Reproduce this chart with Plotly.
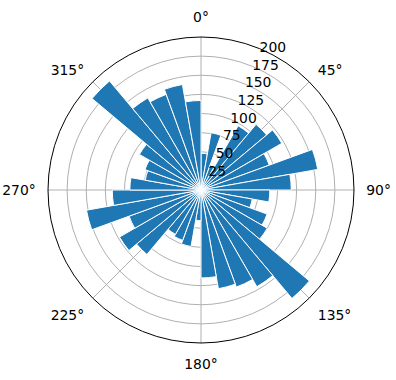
import plotly.graph_objects as go

# Bins: start angle (deg, clockwise from North), 10 deg wide
bin_starts = list(range(0, 360, 10))
counts = [48, 76, 35, 97, 112, 122, 95, 155, 118,
          90, 68, 92, 100, 185, 146, 135, 131, 115,
          40, 75, 70, 67, 110, 123, 100, 152, 116,
          93, 74, 78, 93, 186, 139, 133, 140, 117]
bin_width = 10
r_ticks = [25, 50, 75, 100, 125, 150, 175, 200]
r_label_angle = 22.5
theta_ticks = [0, 45, 90, 135, 180, 225, 270, 315]
theta_labels = [f"{t}°" for t in theta_ticks]

centers = [s + bin_width / 2 for s in bin_starts]

FONT = dict(family="DejaVu Sans", size=13.9, color="black")

fig = go.Figure()
fig.add_trace(go.Barpolar(
    r=counts,
    theta=centers,
    width=[bin_width] * len(counts),
    marker=dict(color="#1f77b4", line=dict(color="white", width=1)),
    showlegend=False,
))
fig.add_trace(go.Scatterpolar(
    r=r_ticks,
    theta=[r_label_angle] * len(r_ticks),
    mode="text",
    text=[str(v) for v in r_ticks],
    textposition="middle right",
    textfont=FONT,
    showlegend=False,
    hoverinfo="skip",
    cliponaxis=False,
))

fig.update_layout(
    width=396, height=380,
    margin=dict(l=0, r=0, t=0, b=0),
    paper_bgcolor="white",
    plot_bgcolor="white",
    font=FONT,
    polar=dict(
        domain=dict(x=[48/396, 354/396], y=[37/380, 343/380]),
        bgcolor="white",
        bargap=0,
        angularaxis=dict(
            rotation=90, direction="clockwise",
            tickmode="array", tickvals=theta_ticks, ticktext=theta_labels,
            showgrid=True, gridcolor="#b0b0b0", gridwidth=0.8,
            showline=True, linecolor="black", linewidth=1,
            ticks="outside", ticklen=9, tickcolor="rgba(0,0,0,0)",
            tickfont=FONT,
            layer="above traces",
        ),
        radialaxis=dict(
            range=[0, 200], tickmode="array", tickvals=r_ticks,
            showticklabels=False,
            showgrid=True, gridcolor="#b0b0b0", gridwidth=0.8,
            showline=False, ticks="",
            layer="above traces",
        ),
    ),
)

fig.write_html("out.html")
